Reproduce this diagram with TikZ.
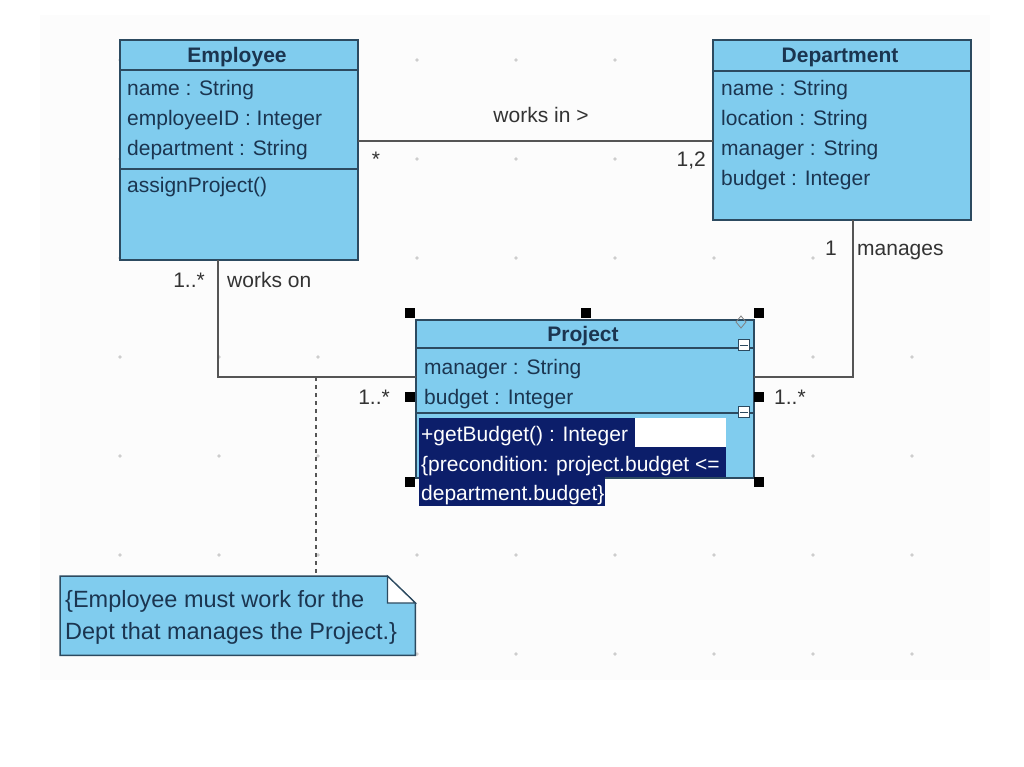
\documentclass[tikz,border=0pt]{standalone}
\usepackage{fontspec}
\setmainfont{Liberation Sans}
\usepackage{tikz}
\usetikzlibrary{positioning, calc}
\definecolor{classfill}{HTML}{80CCEE}
\definecolor{classline}{HTML}{2C4A60}
\definecolor{classtext}{HTML}{1B3550}
\definecolor{assocline}{HTML}{555555}
\definecolor{labeltext}{HTML}{333333}
\definecolor{selnavy}{HTML}{0C1E6A}
\definecolor{griddot}{HTML}{CDCDCD}

\begin{document}
\begin{tikzpicture}[x=1pt, y=-1pt,
    umlclass/.style={draw=classline, fill=classfill, line width=1.5pt, inner sep=0pt, outer sep=0pt, anchor=north west},
    title/.style={font=\fontsize{21}{25}\selectfont\bfseries, text=classtext, anchor=base, inner sep=0pt},
    member/.style={font=\fontsize{21}{25}\selectfont, text=classtext, anchor=base west, inner sep=0pt},
    seltext/.style={font=\fontsize{21}{25}\selectfont, text=white, anchor=base west, inner sep=0pt},
    notetext/.style={font=\fontsize{23.5}{28}\selectfont, text=classtext, anchor=base west, inner sep=0pt},
    role/.style={font=\fontsize{21}{25}\selectfont, text=labeltext, inner sep=0pt},
    assoc/.style={draw=assocline, line width=2pt},
    handle/.style={fill=black, minimum size=10pt, inner sep=0pt},
    toggle/.style={draw=classline, fill=white, line width=1pt, minimum size=11pt, inner sep=0pt},
  ]
  \useasboundingbox (0,0) rectangle (1024,767);
  \fill[white] (0,0) rectangle (1024,767);
  \fill[black!1] (40,15) rectangle (990,680);

  % grid of the drawing canvas
  \foreach \gx in {120,219,...,912}
    \foreach \gy in {60,159,...,655}
      \fill[griddot] (\gx,\gy) circle (1.8);

  % classes
  \node[umlclass, minimum width=238pt, minimum height=220pt] (emp) at (120,40) {};
  \node[umlclass, minimum width=258pt, minimum height=180pt] (dept) at (713,40) {};
  \node[umlclass, minimum width=338pt, minimum height=158pt] (proj) at (416,320) {};

  \draw[classline, line width=1.5pt] ($(emp.north west)+(0,30)$) -- ($(emp.north east)+(0,30)$);
  \draw[classline, line width=1.5pt] ($(emp.north west)+(0,129)$) -- ($(emp.north east)+(0,129)$);
  \draw[classline, line width=1.5pt] ($(dept.north west)+(0,31)$) -- ($(dept.north east)+(0,31)$);
  \draw[classline, line width=1.5pt] ($(proj.north west)+(0,28)$) -- ($(proj.north east)+(0,28)$);
  \draw[classline, line width=1.5pt] ($(proj.north west)+(0,93)$) -- ($(proj.north east)+(0,93)$);

  \node[title] (empname) at (237,63) {Employee};
  \node[member] (empa1) at (127,96) {name : String};
  \node[member] (empa2) at (127,126) {employeeID : Integer};
  \node[member] (empa3) at (127,156) {department : String};
  \node[member] (empo1) at (127,193) {assignProject()};

  \node[title] (deptname) at (840,63) {Department};
  \node[member] (depta1) at (721,96) {name : String};
  \node[member] (depta2) at (721,126) {location : String};
  \node[member] (depta3) at (721,156) {manager : String};
  \node[member] (depta4) at (721,186) {budget : Integer};

  \node[title] (projname) at (583,341) {Project};
  \node[member] (proja1) at (424,374) {manager : String};
  \node[member] (proja2) at (424,404) {budget : Integer};

  % operation being edited
  \fill[white] (635,418) rectangle (726,447);
  \fill[selnavy] (419,418) rectangle (635,447);
  \fill[selnavy] (419,447) rectangle (726,477);
  \fill[selnavy] (419,477) rectangle (605,506);
  \node[seltext] (projo1) at (421,441) {+getBudget() : Integer};
  \node[seltext] (projo2) at (421,471) {\{precondition: project.budget <=};
  \node[seltext] (projo3) at (421,500) {department.budget\}};

  % selection
  \node[handle] at ($(proj.north west)+(-6,-7)$) {};
  \node[handle] at ($(proj.north)+(1,-7)$) {};
  \node[handle] at ($(proj.north east)+(5,-7)$) {};
  \node[handle] at ($(proj.west)+(-6,-2)$) {};
  \node[handle] at ($(proj.east)+(5,-2)$) {};
  \node[handle] at ($(proj.south west)+(-6,4)$) {};
  \node[handle] at ($(proj.south east)+(5,4)$) {};
  \node[toggle] (fold1) at (744,345) {};
  \node[toggle] (fold2) at (744,412) {};
  \draw[classline, line width=1pt] ($(fold1.west)+(2,0)$) -- ($(fold1.east)+(-2,0)$);
  \draw[classline, line width=1pt] ($(fold2.west)+(2,0)$) -- ($(fold2.east)+(-2,0)$);
  \draw[gray, line width=0.8pt] (741,316) -- (746,322) -- (741,328) -- (736,322) -- cycle;

  % associations
  \draw[assoc] ($(emp.north east)+(0,101)$) -- ($(dept.north west)+(0,101)$);
  \draw[assoc] ($(emp.south west)+(98,0)$) |- ($(proj.north west)+(0,57)$);
  \draw[assoc] ($(dept.south west)+(140,0)$) |- ($(proj.north east)+(0,57)$);
  \coordinate (anchorpt) at (316,377);

  \node[role, anchor=base] (worksin) at (541,123) {works in >};
  \node[role, anchor=base] (mulemp) at (376,167) {*};
  \node[role, anchor=base east] (muldept) at (706,167) {1,2};
  \node[role, anchor=base east] (mulempon) at (205,287) {1..*};
  \node[role, anchor=base west] (workson) at (227,287) {works on};
  \node[role, anchor=base east] (mulprojl) at (390,404) {1..*};
  \node[role, anchor=base east] (mulman) at (837,255) {1};
  \node[role, anchor=base west] (manages) at (857,255) {manages};
  \node[role, anchor=base west] (mulprojr) at (774,404) {1..*};

  % constraint note
  \node[draw=none, minimum width=355pt, minimum height=79pt, inner sep=0pt, anchor=north west] (note) at (60,576) {};
  \draw[classline, fill=classfill, line width=1.5pt]
    (note.north west) -- ($(note.north east)+(-28,0)$) -- ($(note.north east)+(0,27)$)
    -- (note.south east) -- (note.south west) -- cycle;
  \draw[classline, fill=white, line width=1.2pt]
    ($(note.north east)+(-28,0)$) -- ($(note.north east)+(-28,27)$) -- ($(note.north east)+(0,27)$) -- cycle;
  \node[notetext] (note1) at (65,607) {\{Employee must work for the};
  \node[notetext] (note2) at (65,639) {Dept that manages the Project.\}};
  \draw[assocline, line width=1.8pt, dash pattern=on 4pt off 4pt] (anchorpt) -- (anchorpt |- note.north);
\end{tikzpicture}
\end{document}
